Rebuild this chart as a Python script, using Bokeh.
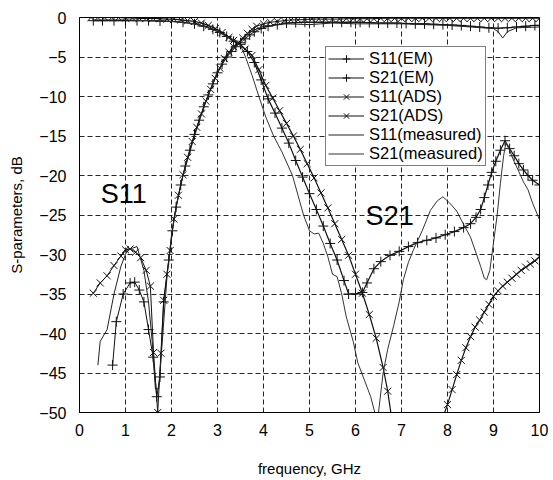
from bokeh.plotting import figure
from bokeh.models import FixedTicker, Range1d, Legend, LegendItem, Label
from bokeh.embed import file_html
from bokeh.resources import INLINE

nan = float("nan")

# ---------------- data ----------------
x_ticks = [0, 1, 2, 3, 4, 5, 6, 7, 8, 9, 10]
y_ticks = [0, -5, -10, -15, -20, -25, -30, -35, -40, -45, -50]
y_tick_labels = ["0", "\u22125", "\u221210", "\u221215", "\u221220", "\u221225",
                 "\u221230", "\u221235", "\u221240", "\u221245", "\u221250"]

s11_em_f = [0.72, 0.8, 0.95, 1.1, 1.2, 1.3, 1.4, 1.5, 1.6, 1.68, 1.75, 1.83, 1.94, 2.02,
            2.1, 2.2, 2.3, 2.4, 2.5, 2.6, 2.7, 2.8, 2.9, 3.0, 3.1, 3.2, 3.3, 3.4, 3.5,
            3.6, 3.7, 3.8, 3.95, 4.1, 4.3, 4.5, 4.7, 4.9, 5.1, 5.3, 5.5, 5.7, 5.9, 6.1,
            6.3, 6.5, 6.7, 6.9, 7.1, 7.3, 7.5, 7.7, 7.9, 8.1, 8.3, 8.5, 8.7, 8.9, 9.1,
            9.3, 9.5, 9.7, 9.9, 10.0]
s11_em_db = [-44.0, -38.5, -35.0, -33.6, -33.5, -34.5, -36.0, -39.5, -43.0, -48.0, -45.5,
             -36.0, -30.7, -27.0, -24.0, -21.2, -18.8, -16.8, -14.8, -13.0, -11.3, -9.8,
             -8.4, -7.0, -5.9, -5.0, -4.3, -3.7, -3.2, -2.7, -2.2, -1.8, -1.4, -1.1, -0.9,
             -0.7, -0.65, -0.6, -0.6, -0.6, -0.6, -0.6, -0.6, -0.6, -0.65, -0.7, -0.7,
             -0.7, -0.75, -0.8, -0.8, -0.85, -0.9, -0.95, -1.0, -1.1, -1.2, -1.3, -1.35,
             -1.3, -1.2, -1.1, -1.0, -1.0]

s21_em_f = [0.3, 0.5, 0.75, 1.0, 1.25, 1.5, 1.75, 2.0, 2.25, 2.5, 2.7, 2.9, 3.05, 3.2,
            3.35, 3.5, 3.65, 3.8, 3.95, 4.1, 4.25, 4.4, 4.55, 4.7, 4.85, 5.0, 5.15, 5.3,
            5.45, 5.6, 5.75, 5.85, 6.0, 6.15, 6.25, 6.4, 6.55, 6.75, 6.95, 7.15, 7.35,
            7.55, 7.75, 7.95, 8.15, 8.35, 8.5, 8.62, 8.72, 8.8, 8.88, 8.96, 9.05, 9.15,
            9.25, 9.35, 9.45, 9.55, 9.65, 9.75, 9.85, 10.0]
s21_em_db = [-0.4, -0.4, -0.4, -0.4, -0.4, -0.4, -0.45, -0.5, -0.6, -0.8, -1.1, -1.5,
             -1.9, -2.4, -3.0, -3.4, -4.3, -5.7, -7.9, -10.3, -12.1, -14.0, -15.9, -18.1,
             -20.2, -22.3, -24.3, -26.4, -28.6, -30.7, -33.3, -35.0, -35.0, -34.8, -33.6,
             -31.8, -30.9, -30.1, -29.6, -29.0, -28.5, -28.2, -27.9, -27.5, -27.1, -26.6,
             -26.1, -25.3, -24.3, -22.8, -21.2, -19.6, -18.2, -16.8, -15.6, -16.6, -17.5,
             -18.5, -19.3, -20.0, -20.6, -21.2]

s11_ads_f = [0.3, 0.45, 0.6, 0.75, 0.9, 1.0, 1.1, 1.22, 1.33, 1.45, 1.54, 1.61, 1.7, 1.77,
             1.83, 1.9, 1.97, 2.05, 2.15, 2.25, 2.35, 2.45, 2.55, 2.65, 2.75, 2.85, 2.95,
             3.05, 3.15, 3.25, 3.35, 3.45, 3.55, 3.65, 3.75, 3.85, 4.0, 4.15, 4.3, 4.45,
             4.6, 4.75, 4.9, 5.05, 5.2, 5.35, 5.5, 5.65, 5.8, 5.95, 6.1, 6.25, 6.4, 6.55,
             6.7, 6.85, 7.0, 7.15, 7.3, 7.45, 7.6, 7.75, 7.9, 8.05, 8.2, 8.35, 8.5, 8.65,
             8.8, 8.95, 9.1, 9.25, 9.4, 9.55, 9.7, 9.85, 10.0]
s11_ads_db = [-34.9, -33.6, -32.7, -31.4, -30.2, -29.4, -29.3, -29.7, -30.4, -32.0, -34.0,
              -42.4, -50.0, -42.5, -35.8, -32.5, -29.5, -25.5, -22.5, -19.9, -17.7, -15.7,
              -13.9, -12.2, -10.6, -9.1, -7.7, -6.4, -5.2, -4.4, -3.7, -3.2, -2.6, -2.0,
              -1.5, -1.1, -0.8, -0.6, -0.5, -0.4, -0.3, -0.3, -0.25, -0.2, -0.2, -0.2,
              -0.2, -0.2, -0.15, -0.15, -0.15, -0.15, -0.15, -0.1, -0.1, -0.1, -0.1, -0.1,
              -0.1, -0.1, -0.1, -0.1, -0.1, -0.1, -0.1, -0.1, -0.1, -0.1, -0.1, -0.1,
              -0.1, -0.1, -0.1, -0.1, -0.1, -0.1, -0.1]

s21_ads_f = [0.25, 0.4, 0.55, 0.7, 0.85, 1.0, 1.15, 1.3, 1.45, 1.6, 1.75, 1.9, 2.05, 2.2,
             2.35, 2.5, 2.65, 2.8, 2.95, 3.1, 3.25, 3.35, 3.45, 3.6, 3.75, 3.9, 4.05, 4.2,
             4.35, 4.5, 4.65, 4.8, 4.95, 5.1, 5.25, 5.4, 5.55, 5.7, 5.85, 6.0, 6.15, 6.3,
             6.45, 6.6, 6.7, 6.78, nan, 7.9, 8.0, 8.1, 8.2, 8.3, 8.4, 8.5, 8.6, 8.7, 8.8,
             8.9, 9.0, 9.1, 9.2, 9.3, 9.4, 9.5, 9.6, 9.7, 9.8, 9.9, 10.0]
s21_ads_db = [0.0, 0.0, 0.0, 0.0, 0.0, -0.05, -0.05, -0.1, -0.1, -0.1, -0.15, -0.2, -0.2,
              -0.3, -0.4, -0.5, -0.7, -1.0, -1.4, -1.9, -2.5, -2.9, -3.3, -4.0, -4.8,
              -6.6, -8.6, -10.2, -11.8, -13.4, -15.0, -16.7, -18.5, -20.3, -22.2, -24.1,
              -26.1, -28.1, -30.1, -32.5, -34.9, -37.6, -40.6, -44.3, -47.3, -50.5, nan,
              -50.6, -49.0, -47.1, -45.2, -43.4, -41.8, -40.4, -39.2, -38.3, -37.3, -36.3,
              -35.3, -34.6, -34.0, -33.5, -33.0, -32.5, -32.0, -31.6, -31.2, -30.8, -30.3]

s11_meas_f = [0.4, 0.45, 0.6, 0.75, 0.9, 1.0, 1.05, 1.15, 1.25, 1.4, 1.5, 1.58, 1.65,
              1.72, 1.8, 1.9, 2.0, 2.1, 2.25, 2.5, 2.75, 3.0, 3.25, 3.5, 3.75, 4.0, 4.5,
              5.0, 5.5, 6.0, 6.5, 7.0, 7.5, 8.0, 8.5, 9.0, 9.1, 9.2, 9.3, 9.5, 10.0]
s11_meas_db = [-44.0, -41.0, -39.5, -35.0, -31.5, -30.0, -29.3, -29.2, -29.0, -32.0, -36.0,
               -41.0, -47.0, -47.0, -41.0, -33.0, -27.5, -24.0, -20.0, -15.0, -10.5, -6.8,
               -4.6, -3.0, -1.7, -1.1, -0.8, -0.9, -0.7, -0.8, -0.8, -0.8, -0.9, -1.0,
               -1.2, -1.4, -1.8, -2.6, -1.8, -1.3, -1.2]

s21_meas_f = [0.3, 1.0, 2.0, 2.5, 2.8, 3.0, 3.2, 3.4, 3.5, 3.61, 3.75, 3.9, 4.05, 4.22,
              4.4, 4.63, 4.75, 4.87, 5.0, 5.1, 5.2, 5.3, 5.4, 5.5, 5.6, 5.7, 5.8, 5.95,
              6.05, 6.2, 6.33, 6.42, 6.5, 6.6, 6.7, 6.83, 6.95, 7.04, 7.15, 7.26, 7.45,
              7.63, 7.78, 7.9, 8.05, 8.2, 8.35, 8.5, 8.62, 8.72, 8.8, 8.85, 8.92, 9.0,
              9.08, 9.15, 9.22, 9.27, 9.35, 9.43, 9.55, 9.65, 9.75, 9.85, 10.0]
s21_meas_db = [-0.3, -0.3, -0.5, -0.8, -1.3, -1.8, -2.4, -3.0, -3.5, -5.0, -7.3, -10.0,
               -12.6, -15.0, -17.0, -20.0, -22.5, -25.0, -27.0, -27.4, -27.3, -28.6,
               -30.3, -32.5, -32.8, -35.0, -37.9, -41.0, -43.7, -46.0, -48.0, -50.0,
               -50.0, -45.0, -42.0, -39.0, -36.0, -33.2, -31.0, -29.4, -27.0, -24.4,
               -23.2, -22.7, -23.5, -24.5, -26.2, -27.8, -29.8, -31.5, -33.0, -33.2,
               -32.0, -28.5, -25.0, -21.0, -17.5, -15.9, -16.8, -18.0, -19.5, -20.8,
               -21.8, -23.5, -25.6]

series_names = ["S11(EM)", "S21(EM)", "S11(ADS)", "S21(ADS)", "S11(measured)", "S21(measured)"]

# ---------------- figure ----------------
FONT = "Liberation Sans"

p = figure(width=548, height=479, output_backend="svg", toolbar_location=None,
           x_range=Range1d(0, 10), y_range=Range1d(-50, 0),
           min_border_left=79, min_border_right=9, min_border_top=17, min_border_bottom=66)
p.background_fill_color = "white"
p.border_fill_color = "white"
p.outline_line_color = "black"
p.outline_line_width = 1

p.xaxis.ticker = FixedTicker(ticks=x_ticks)
p.yaxis.ticker = FixedTicker(ticks=y_ticks)
p.yaxis.major_label_overrides = {t: l for t, l in zip(y_ticks, y_tick_labels)}
for ax in (p.xaxis, p.yaxis):
    ax.major_tick_line_color = None
    ax.minor_tick_line_color = None
    ax.axis_line_color = "black"
    ax.major_label_text_font = FONT
    ax.major_label_text_font_size = "16px"
    ax.major_label_text_color = "black"
    ax.axis_label_text_font = FONT
    ax.axis_label_text_font_size = "15px"
    ax.axis_label_text_font_style = "normal"
    ax.axis_label_text_color = "black"
p.xaxis.axis_label = "frequency, GHz"
p.yaxis.axis_label = "S-parameters, dB"
p.xaxis.major_label_standoff = 5
p.yaxis.major_label_standoff = 7
p.xaxis.axis_label_standoff = 21
p.yaxis.axis_label_standoff = 11

for g in (p.xgrid, p.ygrid):
    g.grid_line_color = "black"
    g.grid_line_alpha = 0.85
    g.grid_line_dash = "5 3"
    g.grid_line_width = 1

col = "#111111"
items = []

r1 = p.line(s11_em_f, s11_em_db, line_color=col, line_width=1)
m1 = p.scatter(s11_em_f, s11_em_db, marker="cross", size=10, line_color=col, line_width=1)
items.append(LegendItem(label=series_names[0], renderers=[r1, m1]))

r2 = p.line(s21_em_f, s21_em_db, line_color=col, line_width=1.2)
m2 = p.scatter(s21_em_f, s21_em_db, marker="cross", size=10, line_color=col, line_width=1)
items.append(LegendItem(label=series_names[1], renderers=[r2, m2]))

r3 = p.line(s11_ads_f, s11_ads_db, line_color=col, line_width=1)
m3 = p.scatter(s11_ads_f, s11_ads_db, marker="x", size=10, line_color=col, line_width=1)
items.append(LegendItem(label=series_names[2], renderers=[r3, m3]))

r4 = p.line(s21_ads_f, s21_ads_db, line_color=col, line_width=1.2)
m4 = p.scatter(s21_ads_f, s21_ads_db, marker="x", size=10, line_color=col, line_width=1)
items.append(LegendItem(label=series_names[3], renderers=[r4, m4]))

r5 = p.line(s11_meas_f, s11_meas_db, line_color="#222222", line_width=1)
items.append(LegendItem(label=series_names[4], renderers=[r5]))

r6 = p.line(s21_meas_f, s21_meas_db, line_color="#333333", line_width=1)
items.append(LegendItem(label=series_names[5], renderers=[r6]))

legend = Legend(items=items, location=(246, 246))
legend.label_text_font = FONT
legend.label_text_font_size = "16.5px"
legend.label_text_color = "black"
legend.glyph_width = 36
legend.glyph_height = 19
legend.label_height = 19
legend.label_standoff = 5
legend.spacing = 0
legend.padding = 2
legend.margin = 0
legend.border_line_color = "black"
legend.border_line_width = 1
legend.background_fill_color = "white"
legend.background_fill_alpha = 1
p.add_layout(legend, "center")

p.add_layout(Label(x=0.46, y=-24.3, text="S11", text_font=FONT, text_font_size="27px",
                   text_color="black"))
p.add_layout(Label(x=6.22, y=-27.0, text="S21", text_font=FONT, text_font_size="27px",
                   text_color="black"))

open("out.html", "w").write(file_html(p, INLINE))
